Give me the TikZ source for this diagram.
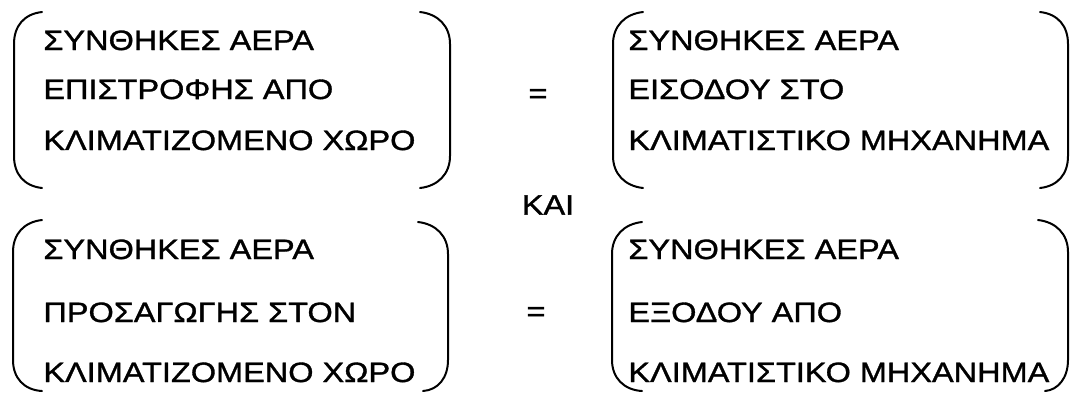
\documentclass[tikz,border=0pt]{standalone}
\usepackage{fontspec}
\setmainfont{Liberation Sans}[FakeStretch=1.16, FakeBold=1.2]
\begin{document}
\begin{tikzpicture}[x=0.5pt,y=-0.5pt,
  txt/.style={anchor=base west, inner sep=0pt, font=\fontsize{14}{16}\selectfont},
  sym/.style={anchor=center, inner sep=0pt, font=\fontsize{14}{16}\selectfont},
  paren/.style={line width=1pt, line cap=round}]
\useasboundingbox (0,0) rectangle (1071,393);

% upper left group
\node[txt] (a1) at (43,50)  {ΣΥΝΘΗΚΕΣ ΑΕΡΑ};
\node[txt] (a2) at (43,99)  {ΕΠΙΣΤΡΟΦΗΣ ΑΠΟ};
\node[txt] (a3) at (43,150) {ΚΛΙΜΑΤΙΖΟΜΕΝΟ ΧΩΡΟ};
\draw[paren] (42,12) .. controls (24,14) and (14,26) .. (14,44) -- (14,156) .. controls (14,174) and (24,186) .. (42,188);
\draw[paren] (420,12) .. controls (438,14) and (450,26) .. (450,44) -- (450,156) .. controls (450,174) and (438,186) .. (420,188);

% upper right group
\node[txt] (b1) at (628,50)  {ΣΥΝΘΗΚΕΣ ΑΕΡΑ};
\node[txt] (b2) at (628,99)  {ΕΙΣΟΔΟΥ ΣΤΟ};
\node[txt] (b3) at (628,150) {ΚΛΙΜΑΤΙΣΤΙΚΟ ΜΗΧΑΝΗΜΑ};
\draw[paren] (643,12) .. controls (625,14) and (613,26) .. (613,44) -- (613,156) .. controls (613,174) and (625,186) .. (643,188);
\draw[paren] (1040,12) .. controls (1058,14) and (1068,26) .. (1068,44) -- (1068,156) .. controls (1068,174) and (1058,186) .. (1040,188);

\node[sym] (eq1) at (538,96) {=};
\node[sym] (and) at (548,205) {ΚΑΙ};

% lower left group
\node[txt] (c1) at (43,259) {ΣΥΝΘΗΚΕΣ ΑΕΡΑ};
\node[txt] (c2) at (43,322) {ΠΡΟΣΑΓΩΓΗΣ ΣΤΟΝ};
\node[txt] (c3) at (43,382) {ΚΛΙΜΑΤΙΖΟΜΕΝΟ ΧΩΡΟ};
\draw[paren] (42,220) .. controls (24,222) and (13,234) .. (13,252) -- (13,360) .. controls (13,378) and (24,390) .. (42,391);
\draw[paren] (418,222) .. controls (436,224) and (448,236) .. (448,254) -- (448,360) .. controls (448,378) and (438,390) .. (423,391);

% lower right group
\node[txt] (d1) at (628,259) {ΣΥΝΘΗΚΕΣ ΑΕΡΑ};
\node[txt] (d2) at (628,322) {ΕΞΟΔΟΥ ΑΠΟ};
\node[txt] (d3) at (628,382) {ΚΛΙΜΑΤΙΣΤΙΚΟ ΜΗΧΑΝΗΜΑ};
\draw[paren] (642,222) .. controls (624,224) and (612,236) .. (612,254) -- (612,360) .. controls (612,378) and (624,390) .. (642,391);
\draw[paren] (1038,220) .. controls (1056,222) and (1068,234) .. (1068,252) -- (1068,360) .. controls (1068,378) and (1058,390) .. (1045,391);

\node[sym] (eq2) at (536,314) {=};
\end{tikzpicture}
\end{document}
